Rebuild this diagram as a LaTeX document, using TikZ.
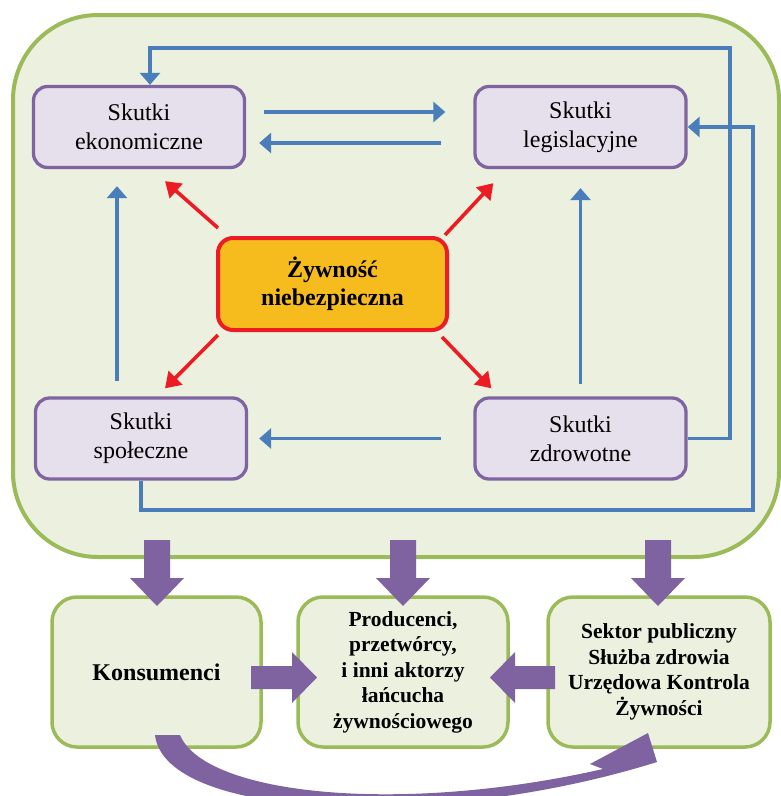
\documentclass[tikz,border=0pt]{standalone}
\usepackage{fontspec}
\setmainfont{Liberation Serif}
\usetikzlibrary{arrows.meta,calc}
\definecolor{gfill}{HTML}{EBF1DE}
\definecolor{gline}{HTML}{9BBB59}
\definecolor{pfill}{HTML}{E5E0EC}
\definecolor{pline}{HTML}{8064A2}
\definecolor{blueline}{HTML}{4A7EBB}
\definecolor{redline}{HTML}{ED1C24}
\definecolor{ofill}{HTML}{F6BC1E}
\definecolor{parr}{HTML}{7F63A1}
\begin{document}
\begin{tikzpicture}[x=1pt,y=-1pt,
 effect/.style={draw=pline, line width=3.3pt, fill=pfill, rounded corners=14pt, minimum width=211pt, minimum height=81pt, inner sep=0pt, align=center, font=\fontsize{24}{29}\selectfont},
 core/.style={draw=redline, line width=4pt, fill=ofill, rounded corners=15pt, minimum width=229pt, minimum height=92pt, inner sep=0pt, align=center, font=\bfseries\fontsize{24}{28}\selectfont},
 actor/.style={draw=gline, line width=3.5pt, fill=gfill, rounded corners=25pt, minimum height=150pt, inner sep=0pt, align=center, font=\bfseries\fontsize{21.5}{25.5}\selectfont},
 barrow/.style={draw=blueline, line width=3.2pt, -{Triangle[length=12pt,width=20pt]}},
 rarrow/.style={draw=redline, line width=3.6pt, -{Triangle[length=15pt,width=19pt]}},
 downblock/.pic={\fill[parr] (-13,0) -- (13,0) -- (13,38) -- (27,38) -- (0,66) -- (-27,38) -- (-13,38) -- cycle;}
]
\useasboundingbox (0,0) rectangle (781,796);
\clip (0,0) rectangle (781,796);

% container
\node[draw=gline, fill=gfill, line width=4pt, rounded corners=85pt, minimum width=766pt, minimum height=542pt, inner sep=0pt] (frame) at (396,286) {};

% effect boxes
\node[effect] (eko) at (139,127) {Skutki\\ekonomiczne};
\node[effect] (leg) at (580.5,127) {Skutki\\legislacyjne};
\node[effect] (spo) at (141,438.5) {Skutki\\społeczne};
\node[effect] (zdr) at (580.5,438.5) {Skutki\\zdrowotne};
\node[core] (zyw) at (332.5,284) {Żywność\\niebezpieczna};

% blue loops
\draw[barrow] (spo.south) |- (753,510) -- (753,127) -- (leg.east);
\draw[barrow] (zdr.east) -| (730,48) -| ($(eko.north)+(11,0)$);

% blue straight arrows
\draw[barrow] ($(eko.east)+(18,-15)$) -- ($(leg.west)+(-28,-15)$);
\draw[barrow] ($(leg.west)+(-32,16)$) -- ($(eko.east)+(13,16)$);
\draw[barrow] ($(zdr.west)+(-32,0)$) -- ($(spo.east)+(11,0)$);
\draw[barrow] ($(spo.north)+(-24,-15)$) -- ($(eko.south)+(-22,17)$);
\draw[barrow] ($(zdr.north)+(0,-12)$) -- ($(leg.south)+(0,19)$);

% red arrows
\draw[rarrow] ($(zyw.north west)+(2,-8)$) -- ($(eko.south)+(26,12)$);
\draw[rarrow] ($(zyw.north east)+(-4,-1)$) -- ($(leg.south west)+(20,14)$);
\draw[rarrow] ($(zyw.south west)+(2,3)$) -- ($(spo.north)+(24,-8)$);
\draw[rarrow] ($(zyw.south east)+(-7,5)$) -- ($(zdr.north west)+(18,-8)$);

% bottom boxes
\node[actor, minimum width=209pt, font=\bfseries\fontsize{24}{29}\selectfont] (kons) at (156.5,672) {Konsumenci};
\node[actor, minimum width=210pt] (prod) at (403,672) {Producenci,\\przetwórcy,\\i inni aktorzy\\łańcucha\\żywnościowego};
\node[actor, minimum width=222pt] (sekt) at (659,672) {Sektor publiczny\\Służba zdrowia\\Urzędowa Kontrola\\Żywności};

% big purple arrows
\pic at (157,540) {downblock};
\pic at (403,540) {downblock};
\pic at (658,540) {downblock};
\fill[parr] (251,666) -- (292,666) -- (292,652) -- (317,677.5) -- (292,703) -- (292,689) -- (251,689) -- cycle;
\fill[parr] (555,666) -- (515,666) -- (515,652) -- (490,677.5) -- (515,703) -- (515,689) -- (555,689) -- cycle;

% curved arrow
\fill[parr] (155,735) -- (180,735) .. controls (205,795) and (400,815) .. (603,769) -- (590,764) -- (648,733) -- (657,762) .. controls (440,830) and (165,820) .. (155,735) -- cycle;
\end{tikzpicture}
\end{document}
